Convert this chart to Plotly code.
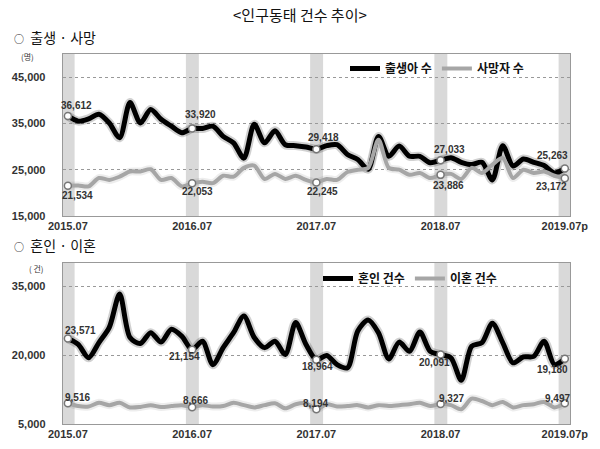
import plotly.graph_objs as go

# 2015.07 ~ 2019.07p, monthly
months = []
for y in range(2015, 2020):
    for m in range(1, 13):
        if (y == 2015 and m < 7) or (y == 2019 and m > 7):
            continue
        months.append(f"{y}.{m:02d}")
tick_text = ["2015.07", "2016.07", "2017.07", "2018.07", "2019.07p"]
july_idx = [0, 12, 24, 36, 48]

births = [36612, 35500, 36000, 37000, 35100, 31900, 39500, 35100, 38000, 35900,
          34400, 33000, 33920, 33900, 34400, 32200, 30800, 27500, 34800, 30800,
          33400, 30400, 30200, 29900, 29418, 30200, 30400, 28300, 27200, 25100,
          32200, 27900, 30100, 27900, 27900, 26500, 27033, 27600, 26600, 26100,
          26600, 22800, 30200, 25800, 27300, 26600, 25900, 24300, 25263]
deaths = [21534, 21600, 21400, 23200, 22800, 23500, 24600, 24600, 25100, 22800,
          23200, 21400, 22053, 22400, 22100, 23700, 23500, 25400, 25900, 23000,
          24100, 23000, 23700, 22800, 22245, 23000, 22800, 24500, 25000, 25400,
          31500, 25400, 25000, 23900, 24300, 23200, 23886, 24100, 23000, 25400,
          24300, 26100, 27500, 23200, 25000, 24300, 24600, 23700, 23172]
marriages = [23571, 22300, 19400, 22700, 26000, 33250, 23800, 22500, 24850, 22800,
             25600, 24100, 21154, 23000, 17900, 21600, 24850, 28500, 23800, 21600,
             23000, 20100, 27050, 22300, 18964, 19900, 17900, 17200, 25200, 27600,
             24850, 19150, 22800, 20800, 25000, 20800, 20091, 19400, 14500, 21900,
             22700, 26900, 22700, 18300, 19600, 19700, 23000, 17900, 19180]
divorces = [9516, 8900, 8800, 9600, 9100, 9600, 8600, 8700, 9100, 8700,
            8900, 9100, 8666, 9100, 8800, 8900, 9600, 9100, 8600, 9100,
            9500, 8400, 9300, 9500, 8194, 9300, 8800, 8900, 9100, 8600,
            9100, 8900, 9100, 9300, 9600, 8900, 9327, 9100, 8200, 10500,
            10000, 9100, 9800, 8600, 9100, 9300, 9800, 8600, 9497]

# label offsets (px) for the July points: (xshift, yshift)
births_lbl = [(9, 10), (8, 14), (7, 12), (9, 11), (-12, 13)]
deaths_lbl = [(10, -10), (5, -8), (6, -9), (8, -11), (-13, -8)]
marr_lbl = [(13, 8), (-8, -7), (1, -7), (-6, -8), (-12, -11)]
div_lbl = [(10, 6), (3, 7), (-1, 6), (11, 6), (-7, 5)]

x = list(range(len(months)))
KFONT = "Noto Sans CJK KR"
NFONT = "Liberation Sans"

fig = go.Figure()


def add_series(vals, color, width, name, xa, ya, legend, shadow):
    fig.add_trace(go.Scatter(x=x, y=vals, mode="lines", xaxis=xa, yaxis=ya,
                             line=dict(color=shadow, width=width + 4, shape="spline", smoothing=0.8),
                             showlegend=False, hoverinfo="skip"))
    fig.add_trace(go.Scatter(x=x, y=vals, mode="lines", name=name, xaxis=xa, yaxis=ya,
                             line=dict(color=color, width=width, shape="spline", smoothing=0.8),
                             legend=legend))
    fig.add_trace(go.Scatter(x=july_idx, y=[vals[i] for i in july_idx], mode="markers",
                             xaxis=xa, yaxis=ya, showlegend=False,
                             marker=dict(size=7, color="white", line=dict(color="#777", width=1.5))))


add_series(births, "#000000", 5, "출생아 수", "x", "y", "legend", "rgba(0,0,0,0.18)")
add_series(deaths, "#a6a6a6", 4, "사망자 수", "x", "y", "legend", "rgba(0,0,0,0.07)")
add_series(marriages, "#000000", 5, "혼인 건수", "x2", "y2", "legend2", "rgba(0,0,0,0.18)")
add_series(divorces, "#a6a6a6", 4, "이혼 건수", "x2", "y2", "legend2", "rgba(0,0,0,0.07)")

annotations = []


def add_labels(vals, offs, xref, yref):
    for i, (dx, dy) in zip(july_idx, offs):
        annotations.append(dict(x=i, y=vals[i], xref=xref, yref=yref, text=f"{vals[i]:,}",
                                showarrow=False, xshift=dx, yshift=dy,
                                font=dict(family=NFONT, size=10, color="#333", weight="bold")))


add_labels(births, births_lbl, "x", "y")
add_labels(deaths, deaths_lbl, "x", "y")
add_labels(marriages, marr_lbl, "x2", "y2")
add_labels(divorces, div_lbl, "x2", "y2")


def paper_text(text, px, py, size, anchor="center", color="#111"):
    return dict(text=text, x=px / 600, y=1 - py / 449, xref="paper", yref="paper",
                xanchor=anchor, yanchor="middle", showarrow=False,
                font=dict(family=KFONT, size=size, color=color))


circ = "<span style='font-size:10px'>○</span>"
annotations += [
    paper_text("<인구동태 건수 추이>", 300, 14, 15),
    paper_text(circ + "  출생 · 사망", 12, 37, 14, "left"),
    paper_text(circ + "  혼인 · 이혼", 12, 245, 14, "left"),
    paper_text("(명)", 27, 57, 8, color="#333"),
    paper_text("( 건)", 36, 268, 8, color="#333"),
]

shapes = []
for xr, yr in (("x", "y domain"), ("x2", "y2 domain")):
    for i in july_idx:
        shapes.append(dict(type="rect", xref=xr, yref=yr, x0=i - 0.6, x1=i + 0.65, y0=0, y1=1,
                           fillcolor="#d9d9d9", line=dict(width=0), layer="below"))

tfont = dict(family=NFONT, size=11, color="#333", weight="bold")
xax = dict(range=[-0.5, 48.5], tickvals=july_idx, ticktext=tick_text, showgrid=False,
           showline=True, linecolor="#999", linewidth=1, mirror=True, zeroline=False,
           tickfont=tfont, ticks="", automargin=False)
yax = dict(showgrid=True, gridcolor="#999", griddash="dot", gridwidth=1, zeroline=False,
           showline=True, linecolor="#999", linewidth=1, mirror=True, tickformat=",",
           tickfont=tfont, ticks="", ticklabelstandoff=14, automargin=False)
lfont = dict(family=KFONT, size=12, color="#111", weight="bold")

fig.update_layout(
    width=600, height=449, margin=dict(l=0, r=0, t=0, b=0, autoexpand=False),
    paper_bgcolor="white", plot_bgcolor="white",
    xaxis=dict(xax, domain=[0.1045, 0.95], anchor="y"),
    yaxis=dict(yax, domain=[1 - 216 / 449, 1 - 54 / 449], range=[15000, 50000],
               tickvals=[15000, 25000, 35000, 45000], anchor="x"),
    xaxis2=dict(xax, domain=[0.1045, 0.95], anchor="y2"),
    yaxis2=dict(yax, domain=[1 - 424 / 449, 1 - 263 / 449], range=[5000, 40000],
                tickvals=[5000, 20000, 35000], anchor="x2"),
    legend=dict(orientation="h", x=345 / 600, y=1 - 54 / 449, xanchor="left", yanchor="top",
                bgcolor="rgba(0,0,0,0)", font=lfont, itemwidth=30),
    legend2=dict(orientation="h", x=318 / 600, y=1 - 264 / 449, xanchor="left", yanchor="top",
                 bgcolor="rgba(0,0,0,0)", font=lfont, itemwidth=30),
    annotations=annotations, shapes=shapes, showlegend=True,
)

fig.write_html("out.html", config={"displayModeBar": False},
               post_script="document.body.style.margin='0px';")
